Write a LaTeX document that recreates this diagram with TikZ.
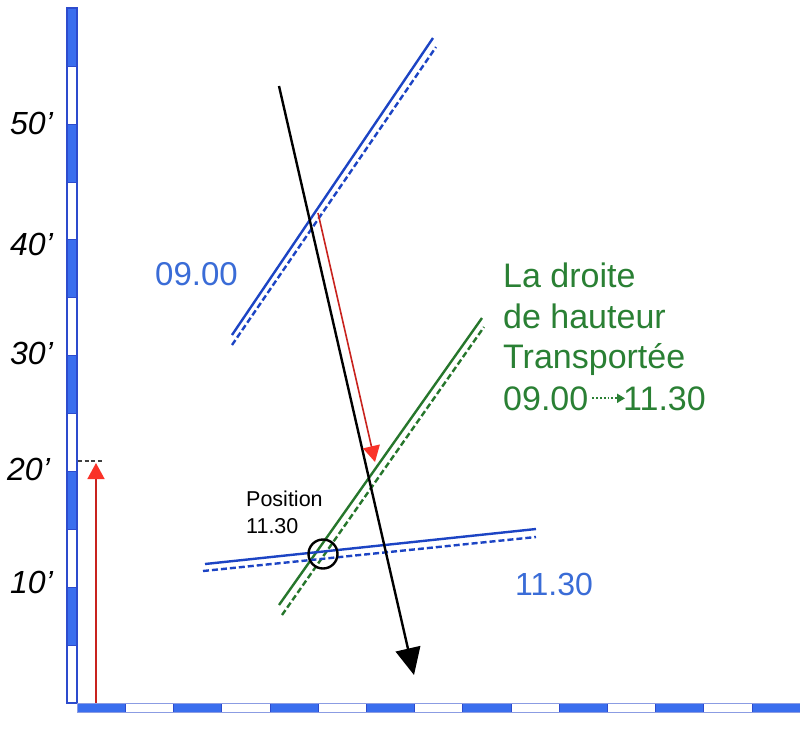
\documentclass[tikz,border=0pt]{standalone}
\usepackage{fontspec}
\setmainfont{Liberation Sans}
\usetikzlibrary{arrows.meta}
\definecolor{barblue}{RGB}{58,110,238}
\definecolor{baredge}{RGB}{45,75,205}
\definecolor{lineblue}{RGB}{28,68,196}
\definecolor{textblue}{RGB}{58,108,215}
\definecolor{lgreen}{RGB}{38,118,44}
\definecolor{tgreen}{RGB}{42,128,52}
\definecolor{redline}{RGB}{200,35,30}
\definecolor{redhead}{RGB}{250,50,40}
\begin{document}
\begin{tikzpicture}[x=1pt,y=-1pt,
  solidl/.style={line width=2.4pt},
  dashl/.style={line width=2.4pt, dash pattern=on 6pt off 3pt},
  axislab/.style={anchor=base west, inner sep=0pt, font=\fontsize{32}{38}\selectfont\itshape},
  gtext/.style={anchor=base west, inner sep=0pt, text=tgreen, font=\fontsize{34}{41}\selectfont},
  btext/.style={anchor=base west, inner sep=0pt, text=textblue, font=\fontsize{33}{40}\selectfont},
  smalltext/.style={anchor=base west, inner sep=0pt, font=\fontsize{21.5}{26}\selectfont},
  redarrow/.style={redline, line width=1.6pt, -{Triangle[width=17pt,length=16pt,color=redhead]}}
]
\useasboundingbox[fill=white] (0,0) rectangle (800,732);

% vertical scale bar
\foreach \i in {0,2,...,10}
  \fill[barblue, draw=baredge, line width=0.5pt] (67,{8+\i*57.917}) rectangle (77,{8+(\i+1)*57.917});
\draw[baredge, line width=1.2pt] (67,8) rectangle (77,703);

% horizontal scale bar
\foreach \i in {0,2,...,14}
  \fill[barblue, draw=baredge, line width=0.5pt] ({77+\i*48.2},703) rectangle ({min(800,77+(\i+1)*48.2)},712);
\draw[baredge!55, line width=1pt] (77,703) rectangle (800,712);

% axis labels
\node[axislab] (l50) at (10,134) {50’};
\node[axislab] (l40) at (10,255) {40’};
\node[axislab] (l30) at (10,364) {30’};
\node[axislab] (l20) at (7,480) {20’};
\node[axislab] (l10) at (10,593) {10’};

% left red arrow and dashed mark
\coordinate (ra0) at (96,703);
\coordinate (ra1) at (96,463);
\draw[redarrow] (ra0) -- (ra1);
\coordinate (dm0) at (78,461);
\coordinate (dm1) at (103,461);
\draw[black!75, line width=1.2pt, dash pattern=on 4pt off 2.5pt] (dm0) -- (dm1);

% 09.00 line of position
\coordinate (a0) at (232,335); \coordinate (a1) at (433,38);
\coordinate (b0) at (232,345); \coordinate (b1) at (436,47);
\draw[lineblue, solidl] (a0) -- (a1);
\draw[lineblue, dashl] (b0) -- (b1);

% transported line (green)
\coordinate (g0) at (279,605); \coordinate (g1) at (482,318);
\coordinate (h0) at (282,615); \coordinate (h1) at (484,327);
\draw[lgreen, solidl] (g0) -- (g1);
\draw[lgreen, dashl] (h0) -- (h1);

% 11.30 line of position
\coordinate (c0) at (205,564); \coordinate (c1) at (536,529);
\coordinate (d0) at (203,571); \coordinate (d1) at (536,537);
\draw[lineblue, solidl] (c0) -- (c1);
\draw[lineblue, dashl] (d0) -- (d1);

% route arrow
\coordinate (r0) at (279,86);
\coordinate (r1) at (414,675);
\draw[black, line width=2.4pt, -{Triangle[width=25pt,length=27pt]}] (r0) -- (r1);

% transport arrow
\coordinate (t0) at (318,213);
\coordinate (t1) at (375,462);
\draw[redarrow] (t0) -- (t1);

% position circle
\node[draw=black, line width=2.4pt, circle, minimum size=29pt, inner sep=0pt] (pos) at (323,554) {};

% labels
\node[btext] (lab0900) at (155,285) {09.00};
\node[btext, font=\fontsize{32}{40}\selectfont] (lab1130) at (515,595) {11.30};
\node[smalltext] (p1) at (246,506) {Position};
\node[smalltext] (p2) at (246,533) {11.30};

\node[gtext] (gt1) at (503,287) {La droite};
\node[gtext] (gt2) at (503,328) {de hauteur};
\node[gtext] (gt3) at (503,368) {Transportée};
\node[gtext] (gt4a) at (503,410) {09.00};
\node[gtext] (gt4b) at (623,410) {11.30};
\draw[tgreen, line width=2pt, dash pattern=on 1.8pt off 2pt, -{Triangle[width=9pt,length=8pt]}]
  ([xshift=4pt]gt4a.east) -- ([xshift=2pt]gt4b.west);
\end{tikzpicture}
\end{document}
